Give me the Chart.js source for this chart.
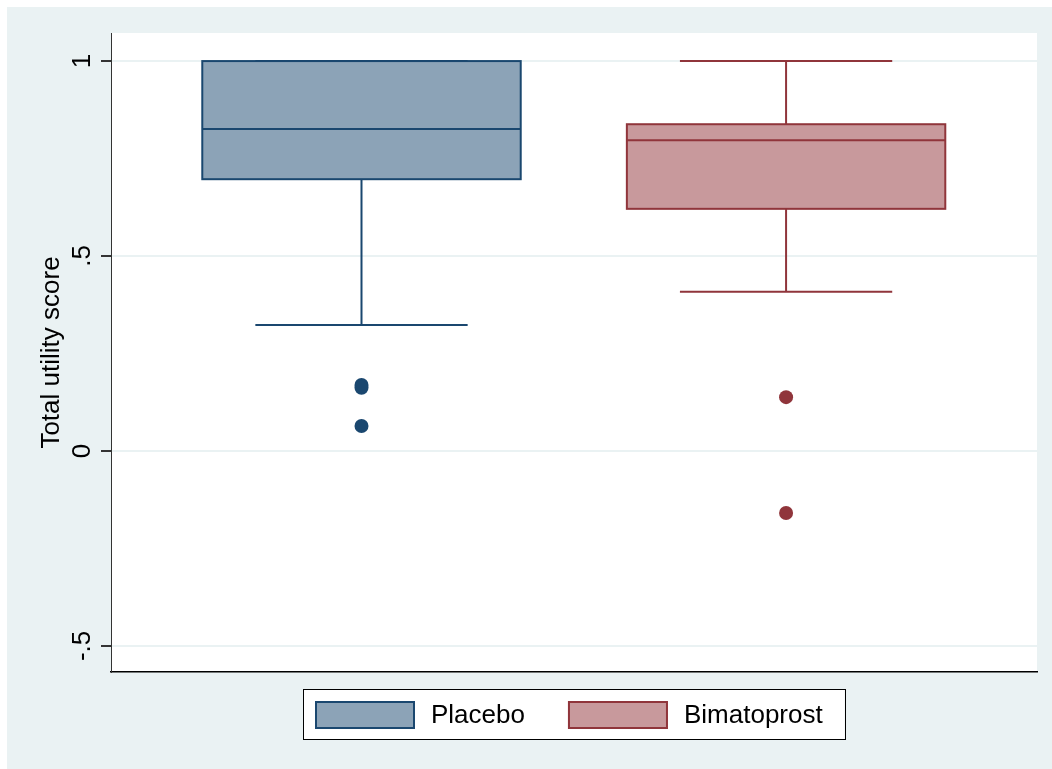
<!DOCTYPE html>
<html>
<head>
<meta charset="utf-8">
<title>Total utility score by treatment</title>
<script src="https://cdn.jsdelivr.net/npm/chart.js@4.4.0/dist/chart.umd.min.js"></script>
<style>
  html, body { margin: 0; padding: 0; background: #fff; }
  #wrap { position: relative; width: 1052px; height: 769px; }
</style>
</head>
<body>
<div id="wrap"><canvas id="utilityChart" width="1052" height="769"></canvas></div>
<script>
// Treatment groups and their box-plot summaries
const groups = ['Placebo', 'Bimatoprost'];
const groupPos = [1, 2];
const whiskerLow = [0.323, 0.408];
const q1 = [0.697, 0.621];
const median = [0.826, 0.797];
const q3 = [1.0, 0.838];
const whiskerHigh = [1.0, 1.0];
const placeboOutliers = [0.169, 0.162, 0.064];
const bimatoprostOutliers = [0.138, -0.159];

// Y axis
const tickValues = [-0.5, 0, 0.5, 1];
const tickLabels = ['-.5', '0', '.5', '1'];
const yTitle = 'Total utility score';

const fillColors = ['#8ca3b7', '#c8999c'];
const lineColors = ['#1a476f', '#90353b'];
const FONT = '"Liberation Sans", Arial, Helvetica, sans-serif';
const BOX_WIDTH = 0.75;   // in x units
const CAP_WIDTH = 0.5;

// Gray page background with white plot region
const stataFrame = {
    id: 'stataFrame',
    beforeDraw(chart) {
        const { ctx, width, height, chartArea: a } = chart;
        ctx.save();
        ctx.fillStyle = '#eaf2f3';
        ctx.fillRect(7, 7, width - 7, height - 7);
        ctx.fillStyle = '#ffffff';
        ctx.fillRect(a.left, a.top, a.right - a.left, a.bottom - a.top);
        ctx.restore();
    }
};

// Boxes, medians and whiskers
const boxPlots = {
    id: 'boxPlots',
    beforeDatasetsDraw(chart) {
        const { ctx, scales: { x, y } } = chart;
        ctx.save();
        ctx.lineWidth = 2;
        groupPos.forEach((pos, i) => {
            const xc = x.getPixelForValue(pos);
            const xl = x.getPixelForValue(pos - BOX_WIDTH / 2);
            const xr = x.getPixelForValue(pos + BOX_WIDTH / 2);
            const cl = x.getPixelForValue(pos - CAP_WIDTH / 2);
            const cr = x.getPixelForValue(pos + CAP_WIDTH / 2);
            const yLo = y.getPixelForValue(whiskerLow[i]);
            const yQ1 = y.getPixelForValue(q1[i]);
            const yMed = y.getPixelForValue(median[i]);
            const yQ3 = y.getPixelForValue(q3[i]);
            const yHi = y.getPixelForValue(whiskerHigh[i]);

            ctx.strokeStyle = lineColors[i];
            ctx.beginPath();
            ctx.moveTo(xc, yQ1); ctx.lineTo(xc, yLo);
            ctx.moveTo(cl, yLo); ctx.lineTo(cr, yLo);
            ctx.moveTo(xc, yQ3); ctx.lineTo(xc, yHi);
            ctx.moveTo(cl, yHi); ctx.lineTo(cr, yHi);
            ctx.stroke();

            ctx.fillStyle = fillColors[i];
            ctx.fillRect(xl, yQ3, xr - xl, yQ1 - yQ3);
            ctx.strokeRect(xl, yQ3, xr - xl, yQ1 - yQ3);

            ctx.beginPath();
            ctx.moveTo(xl, yMed); ctx.lineTo(xr, yMed);
            ctx.stroke();
        });
        ctx.restore();
    }
};

// Rotated tick labels and axis title
const axisText = {
    id: 'axisText',
    afterDraw(chart) {
        const { ctx, chartArea: a, scales: { y } } = chart;
        ctx.save();
        ctx.fillStyle = '#000';
        ctx.font = '26px ' + FONT;
        ctx.textAlign = 'center';
        ctx.textBaseline = 'alphabetic';
        tickValues.forEach((v, i) => {
            ctx.save();
            ctx.translate(a.left - 21, y.getPixelForValue(v));
            ctx.rotate(-Math.PI / 2);
            ctx.fillText(tickLabels[i], 0, 0);
            ctx.restore();
        });
        ctx.translate(a.left - 52, (a.top + a.bottom) / 2);
        ctx.rotate(-Math.PI / 2);
        ctx.fillText(yTitle, 0, 0);
        ctx.restore();
    }
};

// Framed legend under the plot
const legendBox = {
    id: 'legendBox',
    afterDraw(chart) {
        const { ctx, chartArea: a } = chart;
        ctx.save();
        ctx.font = '26px ' + FONT;
        const pad = 12, padR = 22, sw = 100, sh = 28, gap = 16, itemGap = 43, h = 50;
        const textW = groups.map(g => ctx.measureText(g).width);
        const total = pad + padR + textW.reduce((s, w) => s + sw + gap + w, 0) + itemGap * (groups.length - 1);
        const left = Math.round((a.left + a.right) / 2 - total / 2);
        const top = Math.round(a.bottom + 17);

        ctx.fillStyle = '#fff';
        ctx.fillRect(left, top, total, h);
        ctx.strokeStyle = '#000';
        ctx.lineWidth = 1;
        ctx.strokeRect(left + 0.5, top + 0.5, Math.round(total), h);

        let cx = left + pad;
        groups.forEach((g, i) => {
            ctx.fillStyle = fillColors[i];
            ctx.fillRect(cx, top + 12, sw, sh);
            ctx.strokeStyle = lineColors[i];
            ctx.lineWidth = 2;
            ctx.strokeRect(cx + 1, top + 13, sw - 2, sh - 2);
            ctx.fillStyle = '#000';
            ctx.textBaseline = 'middle';
            ctx.fillText(g, cx + sw + gap, top + h / 2 + 2);
            cx += sw + gap + textW[i] + itemGap;
        });
        ctx.restore();
    }
};

const outlierSets = [placeboOutliers, bimatoprostOutliers];

new Chart(document.getElementById('utilityChart'), {
    type: 'scatter',
    data: {
        datasets: groups.map((g, i) => ({
            label: g,
            data: outlierSets[i].map(v => ({ x: groupPos[i], y: v })),
            backgroundColor: lineColors[i],
            borderColor: lineColors[i],
            pointRadius: 7,
            pointBorderWidth: 0
        }))
    },
    options: {
        responsive: false,
        animation: false,
        layout: { padding: { left: 111, right: 15, top: 33, bottom: 97 } },
        plugins: {
            legend: { display: false },
            tooltip: { enabled: false }
        },
        scales: {
            x: {
                type: 'linear',
                min: 0.41,
                max: 2.591,
                ticks: { display: false },
                grid: { display: false },
                border: { display: true, color: '#000', width: 1.5 },
                afterFit(scale) { scale.height = 0; }
            },
            y: {
                min: -0.567,
                max: 1.072,
                afterBuildTicks(scale) { scale.ticks = tickValues.map(v => ({ value: v })); },
                ticks: { display: false },
                grid: { color: '#eaf2f3', lineWidth: 2, tickColor: '#333', tickLength: 10, drawTicks: true },
                border: { color: '#333', width: 1 },
                afterFit(scale) { scale.width = 0; }
            }
        }
    },
    plugins: [stataFrame, boxPlots, axisText, legendBox]
});
</script>
</body>
</html>
